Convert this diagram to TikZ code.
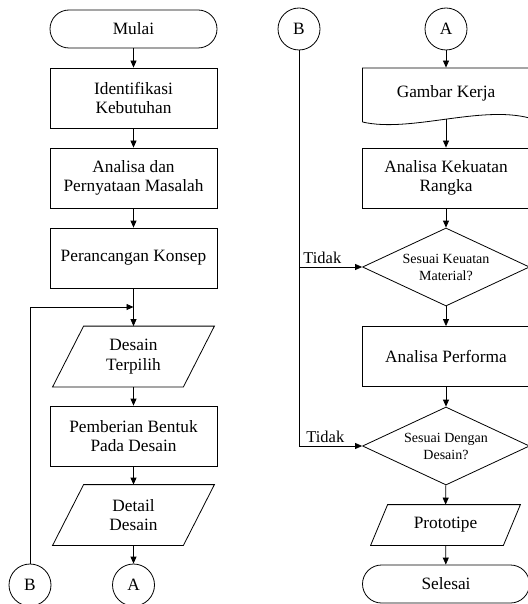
\documentclass[tikz,border=0pt]{standalone}
\usepackage{fontspec}
\setmainfont{Liberation Serif}
\usetikzlibrary{shapes.geometric,arrows.meta,calc}
\newcommand\paraoutline[2]{\draw ($(#1.north west)+(#2,0)$) -- (#1.north east) -- ($(#1.south east)+(-#2,0)$) -- (#1.south west) -- cycle;}
\begin{document}
\begin{tikzpicture}[x=1pt,y=-1pt, line width=0.8pt,
  every node/.style={font=\fontsize{17.3}{19.5}\selectfont, align=center, inner sep=0pt},
  proc/.style={draw, rectangle, minimum width=167pt, minimum height=60pt},
  term/.style={draw, rectangle, rounded corners=19pt, minimum width=167pt, minimum height=38pt},
  conn/.style={draw, circle, minimum size=42pt},
  iobox/.style={rectangle, minimum width=161pt, minimum height=60pt},
  dec/.style={draw, diamond, aspect=2.14, minimum width=167pt, minimum height=78pt, font=\fontsize{14}{17}\selectfont},
  flow/.style={-{Triangle[length=7pt,width=6pt]}},
  lbl/.style={font=\fontsize{16.5}{19}\selectfont, anchor=south west}
]
\useasboundingbox (0,0) rectangle (527,604);
% left column
\node[term] (mulai) at (133.5,29) {Mulai};
\node[proc] (ident) at (133.5,98) {Identifikasi\\Kebutuhan};
\node[proc] (anal) at (133.5,178) {Analisa dan\\Pernyataan Masalah};
\node[proc] (konsep) at (133.5,258) {Perancangan Konsep};
\coordinate (j) at (133.5,307);
\node[iobox] (terpilih) at (133.5,356.5) {Desain\\Terpilih};
\paraoutline{terpilih}{31}
\node[proc] (bentuk) at (133.5,436) {Pemberian Bentuk\\Pada Desain};
\node[iobox] (detail) at (133.5,515) {Detail\\Desain};
\paraoutline{detail}{31}
\node[conn] (bl) at (30,585) {B};
\node[conn] (al) at (133.5,585) {A};
% right column
\node[conn] (br) at (299,29) {B};
\node[conn] (ar) at (446,29) {A};
\node[rectangle, minimum width=167pt, minimum height=51pt] (gk) at (446,93.5) {Gambar Kerja};
\draw (362.5,122) -- (362.5,68) -- (529.5,68) -- (529.5,118) .. controls (480,105) and (410,133) .. (362.5,122);
\node[proc] (kekuatan) at (446,178) {Analisa Kekuatan\\Rangka};
\node[dec] (d1) at (446,267) {Sesuai Keuatan\\Material?};
\node[proc] (perf) at (446,356.5) {Analisa Performa};
\node[dec] (d2) at (446,446) {Sesuai Dengan\\Desain?};
\node[rectangle, minimum width=149pt, minimum height=40pt] (proto) at (445.5,525) {Prototipe};
\paraoutline{proto}{17}
\node[term] (selesai) at (446,584) {Selesai};
\coordinate (t1) at (299,267);
% connectors left
\draw[flow] (mulai) -- (ident);
\draw[flow] (ident) -- (anal);
\draw[flow] (anal) -- (konsep);
\draw[flow] (konsep) -- (terpilih);
\draw[flow] (bl) |- (j);
\draw[flow] (terpilih) -- (bentuk);
\draw[flow] (bentuk) -- (detail);
\draw[flow] (detail) -- (al);
% connectors right
\draw[flow] (ar) -- (gk);
\draw[flow] (gk) -- (kekuatan);
\draw[flow] (kekuatan) -- (d1);
\draw[flow] (d1) -- (perf);
\draw[flow] (perf) -- (d2);
\draw[flow] (d2) -- (proto);
\draw[flow] (proto) -- (selesai);
\draw[flow] (br) |- (d2);
\draw[flow] (t1) -- (d1);
\node[lbl] (tidak1) at (303,264.5) {Tidak};
\node[lbl] (tidak2) at (306,443.5) {Tidak};
\end{tikzpicture}
\end{document}
